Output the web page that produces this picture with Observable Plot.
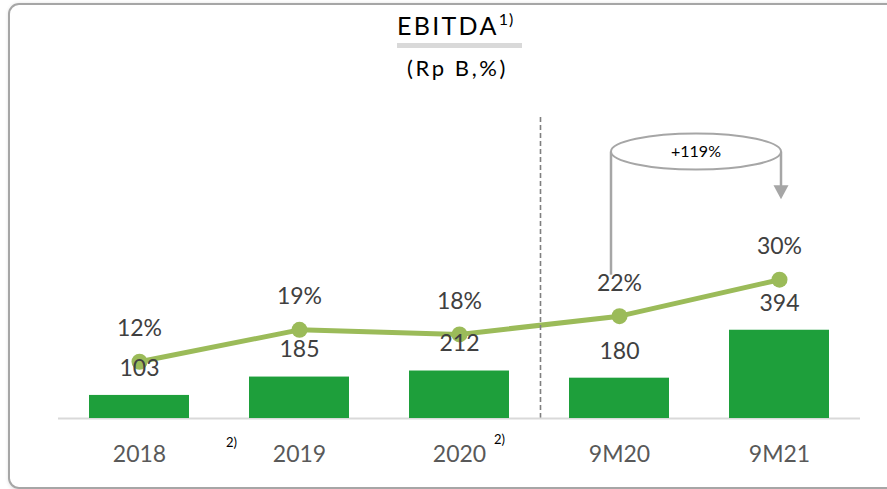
<!DOCTYPE html>
<html><head><meta charset="utf-8">
<script src="https://cdn.jsdelivr.net/npm/d3@7"></script>
<script src="https://cdn.jsdelivr.net/npm/@observablehq/plot@0.6"></script>
<style>
body{margin:0;background:#fff;font-family:Lato,"Open Sans",sans-serif;overflow:hidden}
#wrap{position:relative;width:887px;height:489px;overflow:hidden;background:#fff}
#frame{position:absolute;left:8px;top:3px;width:930px;height:482px;border:2px solid #a6a6a6;border-radius:11px;box-shadow:1px 1px 4px rgba(0,0,0,0.18)}
#title{position:absolute;left:397px;top:13px;font-size:25px;line-height:25px;letter-spacing:2.3px;color:#000;white-space:nowrap}
#title sup{font-size:16px;letter-spacing:1px;position:relative;top:-2px;vertical-align:top;line-height:16px}
#uline{position:absolute;left:397px;top:43px;width:125px;height:5px;background:#d9d9d9}
#sub{position:absolute;left:407px;top:57px;font-size:22px;line-height:22px;letter-spacing:2.6px;color:#000;white-space:nowrap}
.layer{position:absolute;left:0;top:0}
</style></head>
<body>
<div id="wrap">
  <div id="frame"></div>
  <div id="title">EBITDA<sup>1)</sup></div>
  <div id="uline"></div>
  <div id="sub">(Rp B,%)</div>
  <div id="l1" class="layer"></div>
  <div id="l2" class="layer"></div>
</div>
<script>
const categories = ["2018", "2019", "2020", "9M20", "9M21"];
const ebitda = [103, 185, 212, 180, 394];
const margin = [12, 19, 18, 22, 30];
const footnotes = [{cat: "2018", text: "2)"}, {cat: "2020", text: "2)"}];
const growthLabel = "+119%";

const data = categories.map((c, i) => ({cat: c, value: ebitda[i], pct: margin[i]}));

const W = 887, H = 489;
const xOpts = {domain: categories, paddingInner: 0.377, paddingOuter: 0.1885, align: 0.5, label: null};
const common = {width: W, height: H, marginLeft: 58, marginRight: 27, marginTop: 82, marginBottom: 71,
  style: {fontFamily: "Lato, 'Open Sans', sans-serif", background: "transparent", overflow: "visible"}};

// line layer (bottom)
const linePlot = Plot.plot({
  ...common,
  x: {...xOpts, axis: null},
  y: {domain: [0, 80], range: [416, 51.2], axis: null},
  marks: [
    Plot.lineY(data, {x: "cat", y: "pct", stroke: "#9bbb59", strokeWidth: 5}),
    Plot.dot(data, {x: "cat", y: "pct", r: 8, fill: "#9bbb59"}),
    Plot.text(data, {x: "cat", y: "pct", text: d => d.pct + "%", dy: -33, fontSize: 23, fill: "#404040"})
  ]
});
document.getElementById("l1").appendChild(linePlot);

// bar layer (top)
const barPlot = Plot.plot({
  ...common,
  x: {...xOpts},
  y: {domain: [0, 1500], range: [418, 82], axis: null},
  marks: [
    Plot.ruleX(["9M20"], {x: d => d, y1: 0, y2: 1350, dx: -79, stroke: "#7f7f7f", strokeWidth: 1.6, strokeDasharray: "5,3"}),
    Plot.ruleY([0], {stroke: "#d9d9d9", strokeWidth: 2}),
    Plot.barY(data, {x: "cat", y: "value", fill: "#1e9f3b"}),
    Plot.text(data, {x: "cat", y: "value", text: d => String(d.value), dy: -27, fontSize: 23, fill: "#404040"}),
    Plot.axisX({tickSize: 0, tickPadding: 27, fontSize: 23, fill: "#595959", label: null}),
    Plot.text(footnotes.filter(d => d.cat === "2018"), {x: "cat", y: () => 0, text: "text", dx: 92, dy: 24, fontSize: 13, fill: "#000"}),
    Plot.text(footnotes.filter(d => d.cat === "2020"), {x: "cat", y: () => 0, text: "text", dx: 40, dy: 21, fontSize: 13, fill: "#000"})
  ]
});
document.getElementById("l2").appendChild(barPlot);

// growth annotation, positioned from the plot scales
const xs = linePlot.scale("x");
const ys = linePlot.scale("y");
const cx = c => xs.apply(c) + xs.bandwidth / 2;
const xl = cx("9M20") - 8, xr = cx("9M21") + 2;
const ey = ys.apply(58);
const svg = d3.select(barPlot);
const g = svg.append("g");
const gray = "#a6a6a6";
g.append("line").attr("x1", xl).attr("x2", xl).attr("y1", ey).attr("y2", ys.apply(22) - 41)
  .attr("stroke", gray).attr("stroke-width", 2.5);
const tipY = ys.apply(30) - 80;
g.append("line").attr("x1", xr).attr("x2", xr).attr("y1", ey).attr("y2", tipY - 12)
  .attr("stroke", gray).attr("stroke-width", 2.5);
g.append("path").attr("d", `M${xr - 7.5},${tipY - 14}L${xr + 7.5},${tipY - 14}L${xr},${tipY}Z`).attr("fill", gray);
g.append("ellipse").attr("cx", (xl + xr) / 2).attr("cy", ey).attr("rx", (xr - xl) / 2).attr("ry", 18)
  .attr("fill", "#fff").attr("stroke", gray).attr("stroke-width", 2);
g.append("text").attr("x", (xl + xr) / 2).attr("y", ey).attr("dy", "0.35em").attr("text-anchor", "middle")
  .attr("font-size", 16).attr("fill", "#000").text(growthLabel);
</script>
</body></html>
